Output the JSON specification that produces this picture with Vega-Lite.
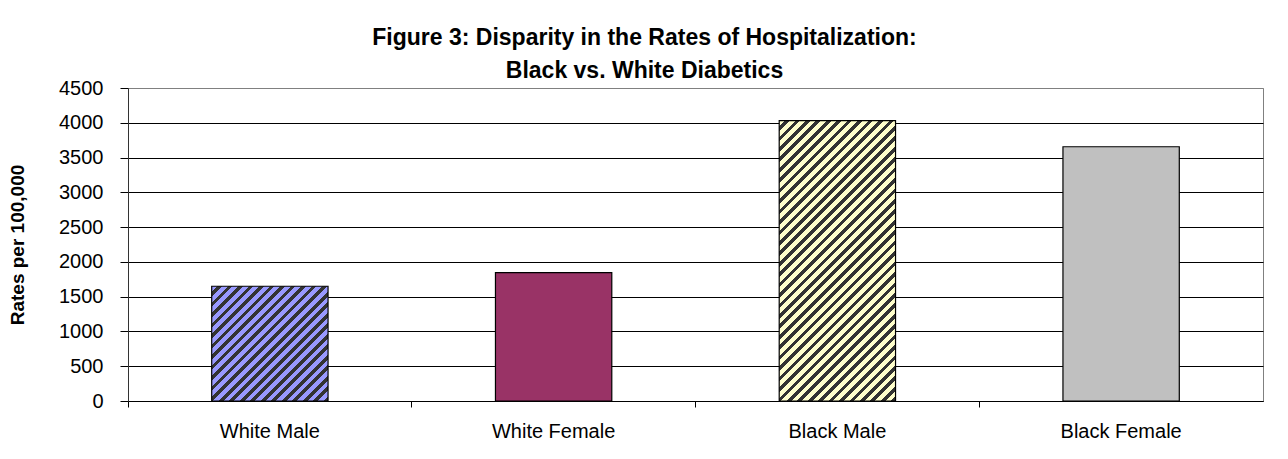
{
  "$schema": "https://vega.github.io/schema/vega-lite/v6.json",
  "autosize": "none",
  "width": 1135,
  "height": 313,
  "padding": {"left": 128, "top": 88, "right": 25, "bottom": 58},
  "background": "white",
  "title": {
    "text": ["Figure 3: Disparity in the Rates of Hospitalization:", "Black vs. White Diabetics"],
    "font": "Liberation Sans",
    "fontSize": 23,
    "fontWeight": "bold",
    "color": "black",
    "anchor": "middle",
    "frame": "group",
    "dx": -51,
    "lineHeight": 33,
    "offset": -5
  },
  "data": {
    "values": [
      {"group": "White Male", "rate": 1650},
      {"group": "White Female", "rate": 1845},
      {"group": "Black Male", "rate": 4030},
      {"group": "Black Female", "rate": 3655}
    ]
  },
  "mark": {"type": "bar", "width": {"band": 0.41}, "stroke": "black", "strokeWidth": 1.2},
  "encoding": {
    "x": {
      "field": "group",
      "type": "nominal",
      "sort": null,
      "scale": {"paddingInner": 0, "paddingOuter": 0},
      "axis": {
        "title": null,
        "labelAngle": 0,
        "bandPosition": 0,
        "labelFont": "Liberation Sans",
        "labelFontSize": 20,
        "labelColor": "black",
        "labelPadding": 14,
        "tickSize": 6,
        "tickColor": "black",
        "domainColor": "black",
        "grid": false
      }
    },
    "y": {
      "field": "rate",
      "type": "quantitative",
      "scale": {"domain": [0, 4500], "nice": false},
      "axis": {
        "title": "Rates per 100,000",
        "titleFont": "Liberation Sans",
        "titleFontSize": 19,
        "titleFontWeight": "bold",
        "titleColor": "black",
        "titlePadding": 31,
        "values": [0, 500, 1000, 1500, 2000, 2500, 3000, 3500, 4000, 4500],
        "format": "d",
        "labelFont": "Liberation Sans",
        "labelFontSize": 20,
        "labelColor": "black",
        "labelPadding": 17,
        "tickSize": 8,
        "tickColor": "black",
        "domainColor": "#333333",
        "grid": true,
        "gridColor": {"condition": {"test": "datum.value === 4500", "value": "#808080"}, "value": "black"},
        "gridOpacity": 1,
        "gridWidth": 1
      }
    },
    "fill": {
      "condition": [
        {
          "test": "datum.group === 'White Male'",
          "value": {
            "gradient": "linear", "x1": 0, "y1": 0, "x2": 1.00677, "y2": 0.99318,
            "stops": [
              {"offset":0,"color":"#9999FF"},{"offset":0.025,"color":"#9999FF"},{"offset":0.025,"color":"#333333"},{"offset":0.0455,"color":"#333333"},
              {"offset":0.0455,"color":"#9999FF"},{"offset":0.0705,"color":"#9999FF"},{"offset":0.0705,"color":"#333333"},{"offset":0.0909,"color":"#333333"},
              {"offset":0.0909,"color":"#9999FF"},{"offset":0.1159,"color":"#9999FF"},{"offset":0.1159,"color":"#333333"},{"offset":0.1364,"color":"#333333"},
              {"offset":0.1364,"color":"#9999FF"},{"offset":0.1614,"color":"#9999FF"},{"offset":0.1614,"color":"#333333"},{"offset":0.1818,"color":"#333333"},
              {"offset":0.1818,"color":"#9999FF"},{"offset":0.2068,"color":"#9999FF"},{"offset":0.2068,"color":"#333333"},{"offset":0.2273,"color":"#333333"},
              {"offset":0.2273,"color":"#9999FF"},{"offset":0.2523,"color":"#9999FF"},{"offset":0.2523,"color":"#333333"},{"offset":0.2727,"color":"#333333"},
              {"offset":0.2727,"color":"#9999FF"},{"offset":0.2977,"color":"#9999FF"},{"offset":0.2977,"color":"#333333"},{"offset":0.3182,"color":"#333333"},
              {"offset":0.3182,"color":"#9999FF"},{"offset":0.3432,"color":"#9999FF"},{"offset":0.3432,"color":"#333333"},{"offset":0.3636,"color":"#333333"},
              {"offset":0.3636,"color":"#9999FF"},{"offset":0.3886,"color":"#9999FF"},{"offset":0.3886,"color":"#333333"},{"offset":0.4091,"color":"#333333"},
              {"offset":0.4091,"color":"#9999FF"},{"offset":0.4341,"color":"#9999FF"},{"offset":0.4341,"color":"#333333"},{"offset":0.4545,"color":"#333333"},
              {"offset":0.4545,"color":"#9999FF"},{"offset":0.4795,"color":"#9999FF"},{"offset":0.4795,"color":"#333333"},{"offset":0.5,"color":"#333333"},
              {"offset":0.5,"color":"#9999FF"},{"offset":0.525,"color":"#9999FF"},{"offset":0.525,"color":"#333333"},{"offset":0.5455,"color":"#333333"},
              {"offset":0.5455,"color":"#9999FF"},{"offset":0.5705,"color":"#9999FF"},{"offset":0.5705,"color":"#333333"},{"offset":0.5909,"color":"#333333"},
              {"offset":0.5909,"color":"#9999FF"},{"offset":0.6159,"color":"#9999FF"},{"offset":0.6159,"color":"#333333"},{"offset":0.6364,"color":"#333333"},
              {"offset":0.6364,"color":"#9999FF"},{"offset":0.6614,"color":"#9999FF"},{"offset":0.6614,"color":"#333333"},{"offset":0.6818,"color":"#333333"},
              {"offset":0.6818,"color":"#9999FF"},{"offset":0.7068,"color":"#9999FF"},{"offset":0.7068,"color":"#333333"},{"offset":0.7273,"color":"#333333"},
              {"offset":0.7273,"color":"#9999FF"},{"offset":0.7523,"color":"#9999FF"},{"offset":0.7523,"color":"#333333"},{"offset":0.7727,"color":"#333333"},
              {"offset":0.7727,"color":"#9999FF"},{"offset":0.7977,"color":"#9999FF"},{"offset":0.7977,"color":"#333333"},{"offset":0.8182,"color":"#333333"},
              {"offset":0.8182,"color":"#9999FF"},{"offset":0.8432,"color":"#9999FF"},{"offset":0.8432,"color":"#333333"},{"offset":0.8636,"color":"#333333"},
              {"offset":0.8636,"color":"#9999FF"},{"offset":0.8886,"color":"#9999FF"},{"offset":0.8886,"color":"#333333"},{"offset":0.9091,"color":"#333333"},
              {"offset":0.9091,"color":"#9999FF"},{"offset":0.9341,"color":"#9999FF"},{"offset":0.9341,"color":"#333333"},{"offset":0.9545,"color":"#333333"},
              {"offset":0.9545,"color":"#9999FF"},{"offset":0.9795,"color":"#9999FF"},{"offset":0.9795,"color":"#333333"},{"offset":1,"color":"#333333"}
            ]
          }
        },
        {
          "test": "datum.group === 'Black Male'",
          "value": {
            "gradient": "linear", "x1": 0, "y1": 0, "x2": 0.501, "y2": 1.20711,
            "stops": [
              {"offset":0,"color":"#FFFFCC"},{"offset":0.0145,"color":"#FFFFCC"},{"offset":0.0145,"color":"#333333"},{"offset":0.0263,"color":"#333333"},
              {"offset":0.0263,"color":"#FFFFCC"},{"offset":0.0408,"color":"#FFFFCC"},{"offset":0.0408,"color":"#333333"},{"offset":0.0526,"color":"#333333"},
              {"offset":0.0526,"color":"#FFFFCC"},{"offset":0.0671,"color":"#FFFFCC"},{"offset":0.0671,"color":"#333333"},{"offset":0.0789,"color":"#333333"},
              {"offset":0.0789,"color":"#FFFFCC"},{"offset":0.0934,"color":"#FFFFCC"},{"offset":0.0934,"color":"#333333"},{"offset":0.1053,"color":"#333333"},
              {"offset":0.1053,"color":"#FFFFCC"},{"offset":0.1197,"color":"#FFFFCC"},{"offset":0.1197,"color":"#333333"},{"offset":0.1316,"color":"#333333"},
              {"offset":0.1316,"color":"#FFFFCC"},{"offset":0.1461,"color":"#FFFFCC"},{"offset":0.1461,"color":"#333333"},{"offset":0.1579,"color":"#333333"},
              {"offset":0.1579,"color":"#FFFFCC"},{"offset":0.1724,"color":"#FFFFCC"},{"offset":0.1724,"color":"#333333"},{"offset":0.1842,"color":"#333333"},
              {"offset":0.1842,"color":"#FFFFCC"},{"offset":0.1987,"color":"#FFFFCC"},{"offset":0.1987,"color":"#333333"},{"offset":0.2105,"color":"#333333"},
              {"offset":0.2105,"color":"#FFFFCC"},{"offset":0.225,"color":"#FFFFCC"},{"offset":0.225,"color":"#333333"},{"offset":0.2368,"color":"#333333"},
              {"offset":0.2368,"color":"#FFFFCC"},{"offset":0.2513,"color":"#FFFFCC"},{"offset":0.2513,"color":"#333333"},{"offset":0.2632,"color":"#333333"},
              {"offset":0.2632,"color":"#FFFFCC"},{"offset":0.2776,"color":"#FFFFCC"},{"offset":0.2776,"color":"#333333"},{"offset":0.2895,"color":"#333333"},
              {"offset":0.2895,"color":"#FFFFCC"},{"offset":0.3039,"color":"#FFFFCC"},{"offset":0.3039,"color":"#333333"},{"offset":0.3158,"color":"#333333"},
              {"offset":0.3158,"color":"#FFFFCC"},{"offset":0.3303,"color":"#FFFFCC"},{"offset":0.3303,"color":"#333333"},{"offset":0.3421,"color":"#333333"},
              {"offset":0.3421,"color":"#FFFFCC"},{"offset":0.3566,"color":"#FFFFCC"},{"offset":0.3566,"color":"#333333"},{"offset":0.3684,"color":"#333333"},
              {"offset":0.3684,"color":"#FFFFCC"},{"offset":0.3829,"color":"#FFFFCC"},{"offset":0.3829,"color":"#333333"},{"offset":0.3947,"color":"#333333"},
              {"offset":0.3947,"color":"#FFFFCC"},{"offset":0.4092,"color":"#FFFFCC"},{"offset":0.4092,"color":"#333333"},{"offset":0.4211,"color":"#333333"},
              {"offset":0.4211,"color":"#FFFFCC"},{"offset":0.4355,"color":"#FFFFCC"},{"offset":0.4355,"color":"#333333"},{"offset":0.4474,"color":"#333333"},
              {"offset":0.4474,"color":"#FFFFCC"},{"offset":0.4618,"color":"#FFFFCC"},{"offset":0.4618,"color":"#333333"},{"offset":0.4737,"color":"#333333"},
              {"offset":0.4737,"color":"#FFFFCC"},{"offset":0.4882,"color":"#FFFFCC"},{"offset":0.4882,"color":"#333333"},{"offset":0.5,"color":"#333333"},
              {"offset":0.5,"color":"#FFFFCC"},{"offset":0.5145,"color":"#FFFFCC"},{"offset":0.5145,"color":"#333333"},{"offset":0.5263,"color":"#333333"},
              {"offset":0.5263,"color":"#FFFFCC"},{"offset":0.5408,"color":"#FFFFCC"},{"offset":0.5408,"color":"#333333"},{"offset":0.5526,"color":"#333333"},
              {"offset":0.5526,"color":"#FFFFCC"},{"offset":0.5671,"color":"#FFFFCC"},{"offset":0.5671,"color":"#333333"},{"offset":0.5789,"color":"#333333"},
              {"offset":0.5789,"color":"#FFFFCC"},{"offset":0.5934,"color":"#FFFFCC"},{"offset":0.5934,"color":"#333333"},{"offset":0.6053,"color":"#333333"},
              {"offset":0.6053,"color":"#FFFFCC"},{"offset":0.6197,"color":"#FFFFCC"},{"offset":0.6197,"color":"#333333"},{"offset":0.6316,"color":"#333333"},
              {"offset":0.6316,"color":"#FFFFCC"},{"offset":0.6461,"color":"#FFFFCC"},{"offset":0.6461,"color":"#333333"},{"offset":0.6579,"color":"#333333"},
              {"offset":0.6579,"color":"#FFFFCC"},{"offset":0.6724,"color":"#FFFFCC"},{"offset":0.6724,"color":"#333333"},{"offset":0.6842,"color":"#333333"},
              {"offset":0.6842,"color":"#FFFFCC"},{"offset":0.6987,"color":"#FFFFCC"},{"offset":0.6987,"color":"#333333"},{"offset":0.7105,"color":"#333333"},
              {"offset":0.7105,"color":"#FFFFCC"},{"offset":0.725,"color":"#FFFFCC"},{"offset":0.725,"color":"#333333"},{"offset":0.7368,"color":"#333333"},
              {"offset":0.7368,"color":"#FFFFCC"},{"offset":0.7513,"color":"#FFFFCC"},{"offset":0.7513,"color":"#333333"},{"offset":0.7632,"color":"#333333"},
              {"offset":0.7632,"color":"#FFFFCC"},{"offset":0.7776,"color":"#FFFFCC"},{"offset":0.7776,"color":"#333333"},{"offset":0.7895,"color":"#333333"},
              {"offset":0.7895,"color":"#FFFFCC"},{"offset":0.8039,"color":"#FFFFCC"},{"offset":0.8039,"color":"#333333"},{"offset":0.8158,"color":"#333333"},
              {"offset":0.8158,"color":"#FFFFCC"},{"offset":0.8303,"color":"#FFFFCC"},{"offset":0.8303,"color":"#333333"},{"offset":0.8421,"color":"#333333"},
              {"offset":0.8421,"color":"#FFFFCC"},{"offset":0.8566,"color":"#FFFFCC"},{"offset":0.8566,"color":"#333333"},{"offset":0.8684,"color":"#333333"},
              {"offset":0.8684,"color":"#FFFFCC"},{"offset":0.8829,"color":"#FFFFCC"},{"offset":0.8829,"color":"#333333"},{"offset":0.8947,"color":"#333333"},
              {"offset":0.8947,"color":"#FFFFCC"},{"offset":0.9092,"color":"#FFFFCC"},{"offset":0.9092,"color":"#333333"},{"offset":0.9211,"color":"#333333"},
              {"offset":0.9211,"color":"#FFFFCC"},{"offset":0.9355,"color":"#FFFFCC"},{"offset":0.9355,"color":"#333333"},{"offset":0.9474,"color":"#333333"},
              {"offset":0.9474,"color":"#FFFFCC"},{"offset":0.9618,"color":"#FFFFCC"},{"offset":0.9618,"color":"#333333"},{"offset":0.9737,"color":"#333333"},
              {"offset":0.9737,"color":"#FFFFCC"},{"offset":0.9882,"color":"#FFFFCC"},{"offset":0.9882,"color":"#333333"},{"offset":1,"color":"#333333"}
            ]
          }
        },
        {"test": "datum.group === 'White Female'", "value": "#993366"}
      ],
      "value": "#C0C0C0"
    }
  },
  "config": {
    "font": "Liberation Sans",
    "view": {"stroke": "#808080", "strokeWidth": 1},
    "axis": {"domainWidth": 1, "tickWidth": 1}
  }
}
